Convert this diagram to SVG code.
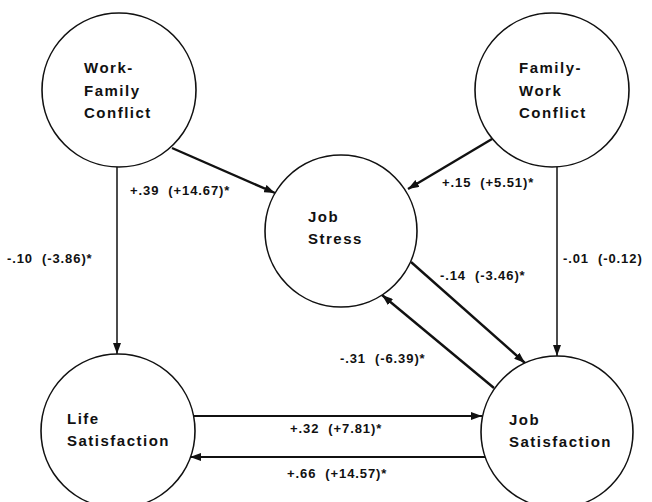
<svg xmlns="http://www.w3.org/2000/svg" width="652" height="502" viewBox="0 0 652 502">
<style>
.node circle{fill:#fff;stroke:#111;stroke-width:1.6}
.node text{font-family:"Liberation Sans",Arial,sans-serif;font-weight:bold;font-size:15px;letter-spacing:1.5px;fill:#111}
.lbl{font-family:"Liberation Sans",Arial,sans-serif;font-weight:bold;font-size:13px;letter-spacing:0.9px;fill:#111;white-space:pre}
.edge{stroke:#111;fill:none;marker-end:url(#ah)}
</style>
<defs>
<marker id="ah" markerUnits="userSpaceOnUse" markerWidth="12" markerHeight="8" refX="11" refY="4" orient="auto">
<path d="M0,0 L11,4 L0,8 z" fill="#111"/>
</marker>
</defs>
<rect width="652" height="502" fill="#fff"/>
<g id="connectors">
<line class="edge" x1="172" y1="148" x2="275" y2="193" stroke-width="2.4"/>
<line class="edge" x1="492" y1="139" x2="408" y2="189" stroke-width="2.4"/>
<line class="edge" x1="117" y1="167" x2="117" y2="354" stroke-width="1.5"/>
<line class="edge" x1="557" y1="167" x2="557" y2="356" stroke-width="1.5"/>
<line class="edge" x1="411" y1="262" x2="525" y2="363" stroke-width="2.4"/>
<line class="edge" x1="494" y1="388" x2="382" y2="295" stroke-width="2.4"/>
<line class="edge" x1="194" y1="416" x2="482" y2="416" stroke-width="2"/>
<line class="edge" x1="485" y1="457" x2="190" y2="457" stroke-width="2"/>
</g>
<g id="labels">
<text class="lbl" x="130" y="195">+.39  (+14.67)*</text>
<text class="lbl" x="442" y="187">+.15  (+5.51)*</text>
<text class="lbl" x="7" y="263">-.10  (-3.86)*</text>
<text class="lbl" x="563" y="263">-.01  (-0.12)</text>
<text class="lbl" x="440" y="280">-.14  (-3.46)*</text>
<text class="lbl" x="340" y="363">-.31  (-6.39)*</text>
<text class="lbl" x="290" y="433">+.32  (+7.81)*</text>
<text class="lbl" x="287" y="478">+.66  (+14.57)*</text>
</g>
<g id="work-family-conflict" class="node">
<circle cx="119" cy="90" r="77"/>
<text x="84" y="73">Work-</text>
<text x="84" y="96">Family</text>
<text x="84" y="118">Conflict</text>
</g>
<g id="family-work-conflict" class="node">
<circle cx="552" cy="90" r="77"/>
<text x="519" y="73">Family-</text>
<text x="519" y="96">Work</text>
<text x="519" y="118">Conflict</text>
</g>
<g id="job-stress" class="node">
<circle cx="341" cy="231" r="76"/>
<text x="308" y="222">Job</text>
<text x="308" y="244">Stress</text>
</g>
<g id="life-satisfaction" class="node">
<circle cx="118" cy="431" r="77"/>
<text x="67" y="424">Life</text>
<text x="67" y="446">Satisfaction</text>
</g>
<g id="job-satisfaction" class="node">
<circle cx="557" cy="432" r="76"/>
<text x="509" y="425">Job</text>
<text x="509" y="447">Satisfaction</text>
</g>
</svg>
